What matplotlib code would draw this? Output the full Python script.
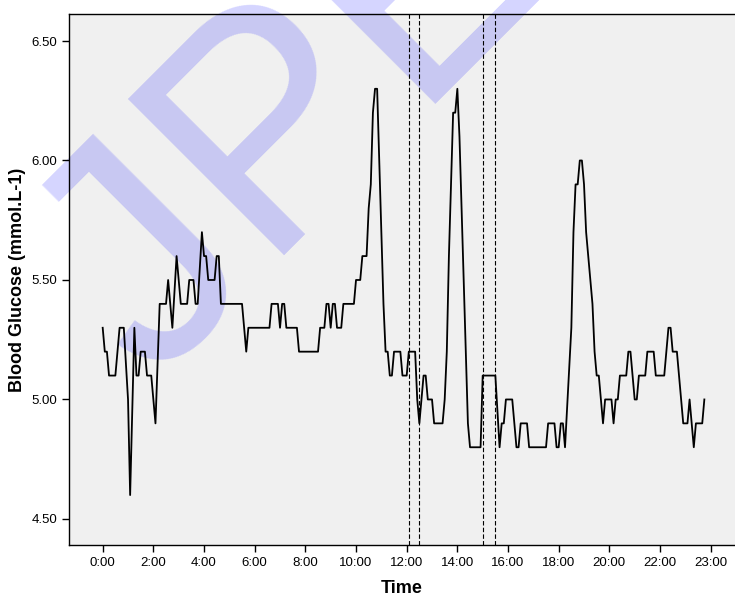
import numpy as np
import matplotlib.pyplot as plt

# glucose readings (5 min sampling), vertices
minutes = [0, 5, 10, 15, 30, 40, 50, 60, 65, 75, 80, 85, 90, 100, 105, 115, 125, 135,
           150, 155, 165, 175, 185, 200, 205, 215, 220, 225, 235, 240, 245, 250, 265,
           270, 275, 280, 330, 340, 345, 395, 400, 415, 420, 425, 430, 435, 460, 465,
           510, 515, 525, 530, 535, 540, 545, 550, 555, 565, 570, 595, 600, 610, 615,
           625, 630, 635, 640, 645, 650, 655, 660, 665, 670, 675, 680, 685, 690, 705,
           710, 720, 725, 740, 745, 750, 755, 760, 765, 770, 780, 785, 805, 810, 815,
           820, 825, 830, 835, 840, 845, 850, 855, 860, 865, 870, 895, 900, 930, 940,
           945, 950, 955, 970, 980, 985, 990, 1005, 1010, 1050, 1055, 1070, 1075, 1080,
           1085, 1090, 1095, 1110, 1115, 1120, 1125, 1130, 1135, 1140, 1145, 1150, 1155,
           1160, 1165, 1170, 1175, 1185, 1190, 1205, 1210, 1215, 1220, 1225, 1240,
           1245, 1250, 1260, 1265, 1270, 1285, 1290, 1305, 1310, 1330, 1340, 1345,
           1350, 1360, 1375, 1385, 1390, 1400, 1405, 1420, 1425]
glucose = [5.3, 5.2, 5.2, 5.1, 5.1, 5.3, 5.3, 5.0, 4.6, 5.3, 5.1, 5.1, 5.2, 5.2, 5.1,
           5.1, 4.9, 5.4, 5.4, 5.5, 5.3, 5.6, 5.4, 5.4, 5.5, 5.5, 5.4, 5.4, 5.7, 5.6,
           5.6, 5.5, 5.5, 5.6, 5.6, 5.4, 5.4, 5.2, 5.3, 5.3, 5.4, 5.4, 5.3, 5.4, 5.4,
           5.3, 5.3, 5.2, 5.2, 5.3, 5.3, 5.4, 5.4, 5.3, 5.4, 5.4, 5.3, 5.3, 5.4, 5.4,
           5.5, 5.5, 5.6, 5.6, 5.8, 5.9, 6.2, 6.3, 6.3, 6.0, 5.7, 5.4, 5.2, 5.2, 5.1,
           5.1, 5.2, 5.2, 5.1, 5.1, 5.2, 5.2, 5.0, 4.9, 5.0, 5.1, 5.1, 5.0, 5.0, 4.9,
           4.9, 5.0, 5.2, 5.6, 5.9, 6.2, 6.2, 6.3, 6.1, 5.8, 5.5, 5.2, 4.9, 4.8, 4.8,
           5.1, 5.1, 4.8, 4.9, 4.9, 5.0, 5.0, 4.8, 4.8, 4.9, 4.9, 4.8, 4.8, 4.9, 4.9,
           4.8, 4.8, 4.9, 4.9, 4.8, 5.3, 5.7, 5.9, 5.9, 6.0, 6.0, 5.9, 5.7, 5.6, 5.5,
           5.4, 5.2, 5.1, 5.1, 4.9, 5.0, 5.0, 4.9, 5.0, 5.0, 5.1, 5.1, 5.2, 5.2, 5.0,
           5.0, 5.1, 5.1, 5.2, 5.2, 5.1, 5.1, 5.3, 5.3, 5.2, 5.2, 4.9, 4.9, 5.0, 4.8,
           4.9, 4.9, 5.0]

# dashed reference lines (minutes)
marker_minutes = [725, 750, 900, 930]

tick_hours = [0, 2, 4, 6, 8, 10, 12, 14, 16, 18, 20, 22, 24]
tick_labels = ['0:00', '2:00', '4:00', '6:00', '8:00', '10:00', '12:00', '14:00',
               '16:00', '18:00', '20:00', '22:00', '23:00']
y_ticks = [4.5, 5.0, 5.5, 6.0, 6.5]

plt.rcParams['font.family'] = ['Liberation Sans', 'DejaVu Sans']

fig = plt.figure(figsize=(7.35, 5.96), dpi=100)
ax = fig.add_axes([69 / 735, 51 / 596, 666 / 735, 531 / 596])
ax.set_facecolor('#f0f0f0')

hours = np.array(minutes) / 60.0
ax.plot(hours, glucose, color='black', lw=1.3, zorder=3)
for m in marker_minutes:
    ax.axvline(m / 60.0, color='black', lw=0.8, ls=(0, (4, 2)), zorder=2)

ax.set_xlim(-1.33, 24.96)
ax.set_ylim(4.391, 6.613)
ax.set_xticks(tick_hours)
ax.set_xticklabels(tick_labels)
ax.set_yticks(y_ticks)
ax.set_yticklabels(['%.2f' % v for v in y_ticks])
ax.tick_params(labelsize=9.5, length=5, width=1, direction='out')
ax.spines['right'].set_visible(False)
for s in ['left', 'bottom', 'top']:
    ax.spines[s].set_linewidth(1)

ax.set_xlabel('Time', fontsize=13, fontweight='bold', labelpad=8)
ax.set_ylabel('Blood Glucose (mmol.L-1)', fontsize=13, fontweight='bold', labelpad=4)

# watermark
ax.text(0.4898, 0.7064, 'JPE', transform=fig.transFigure, rotation=45,
        rotation_mode='anchor', ha='center', va='baseline', fontsize=231,
        color='blue', alpha=0.17, zorder=0, clip_on=False)

fig.savefig('out.png', dpi=100)
